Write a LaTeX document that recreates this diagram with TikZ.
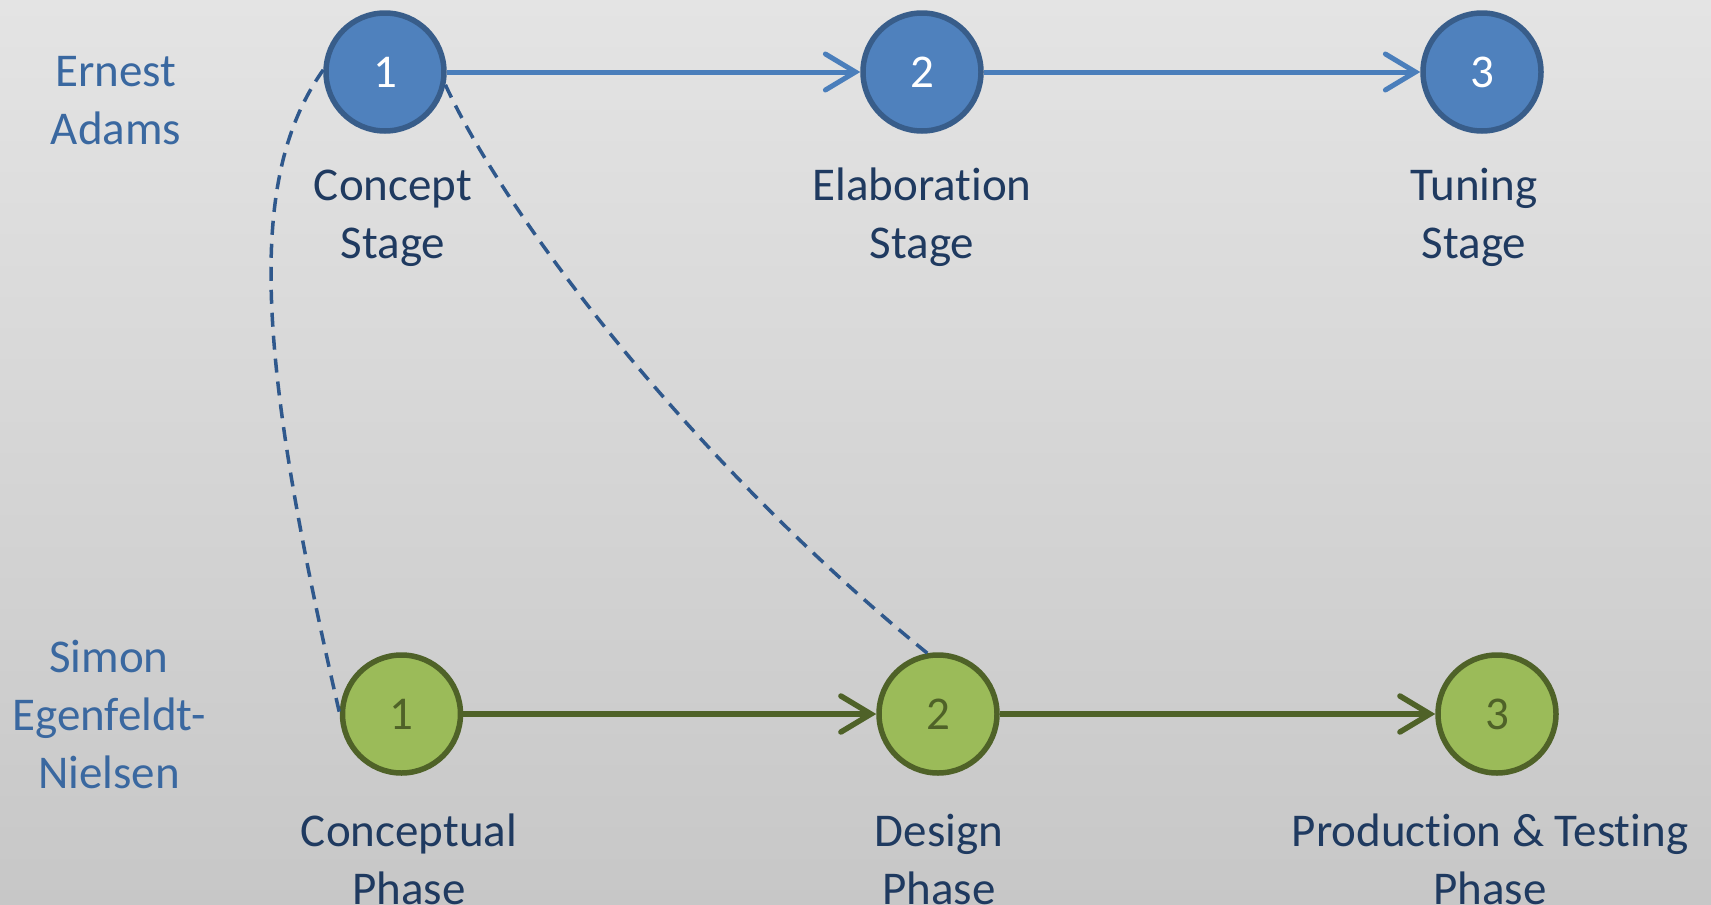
\documentclass[tikz,border=0pt]{standalone}
\usepackage{fontspec}
\setmainfont[Ligatures={NoCommon}]{Carlito}
\usetikzlibrary{arrows.meta}
\definecolor{bgtop}{RGB}{228,228,228}
\definecolor{bgbot}{RGB}{199,199,199}
\definecolor{bluefill}{RGB}{79,129,189}
\definecolor{blueline}{RGB}{56,93,138}
\definecolor{bluearrow}{RGB}{74,126,187}
\definecolor{greenfill}{RGB}{155,187,89}
\definecolor{greenline}{RGB}{79,98,40}
\definecolor{dashblue}{RGB}{47,88,140}
\definecolor{nametext}{RGB}{58,104,160}
\definecolor{labeltext}{RGB}{31,58,96}
\tikzset{
  bluecirc/.style={circle, minimum size=118pt, inner sep=0pt, line width=5.5pt, draw=blueline, fill=bluefill, text=white, font=\fontsize{47pt}{57pt}\selectfont},
  greencirc/.style={circle, minimum size=118pt, inner sep=0pt, line width=5.5pt, draw=greenline, fill=greenfill, text=greenline, font=\fontsize{47pt}{57pt}\selectfont},
  lbl/.style={anchor=base, align=center, inner sep=0pt, text=labeltext, font=\fontsize{47pt}{58pt}\selectfont},
  who/.style={anchor=base, align=center, inner sep=0pt, text=nametext, font=\fontsize{47pt}{58pt}\selectfont},
  bluearr/.style={draw=bluearrow, line width=5pt, -{Straight Barb[length=30pt,width=36pt,line cap=round]}},
  greenarr/.style={draw=greenline, line width=5.5pt, -{Straight Barb[length=30pt,width=36pt,line cap=round]}},
  link/.style={draw=dashblue, line width=3.5pt, dash pattern=on 14pt off 9pt}
}
\begin{document}
\begin{tikzpicture}[x=1pt,y=-1pt]
\useasboundingbox (0,0) rectangle (1711,905);
\shade[top color=bgtop, bottom color=bgbot] (0,0) rectangle (1711,905);

\node[bluecirc] (e1) at (385,72) {1};
\node[bluecirc] (e2) at (922,72) {2};
\node[bluecirc] (e3) at (1482,72) {3};
\node[greencirc] (g1) at (401.5,714) {1};
\node[greencirc] (g2) at (938,714) {2};
\node[greencirc] (g3) at (1497,714) {3};

\node[who] (ea) at (116,144) {Ernest\\Adams};
\node[who] (sen) at (109,788) {Simon\\Egenfeldt-\\Nielsen};

\node[lbl] (l1) at (393,258) {Concept\\Stage};
\node[lbl] (l2) at (922,258) {Elaboration\\Stage};
\node[lbl] (l3) at (1474,258) {Tuning\\Stage};
\node[lbl] (m1) at (409,904) {Conceptual\\Phase};
\node[lbl] (m2) at (939,904) {Design\\Phase};
\node[lbl] (m3) at (1490,904) {Production \& Testing\\Phase};

\draw[bluearr] (e1) -- (e2);
\draw[bluearr] (e2) -- (e3);
\draw[greenarr] (g1) -- (g2);
\draw[greenarr] (g2) -- (g3);

\draw[link] (e1.178) .. controls (245,180) and (258,360) .. (g1.180);
\draw[link] (e1.-12) .. controls (505,215) and (690,460) .. (g2.100);
\end{tikzpicture}
\end{document}
